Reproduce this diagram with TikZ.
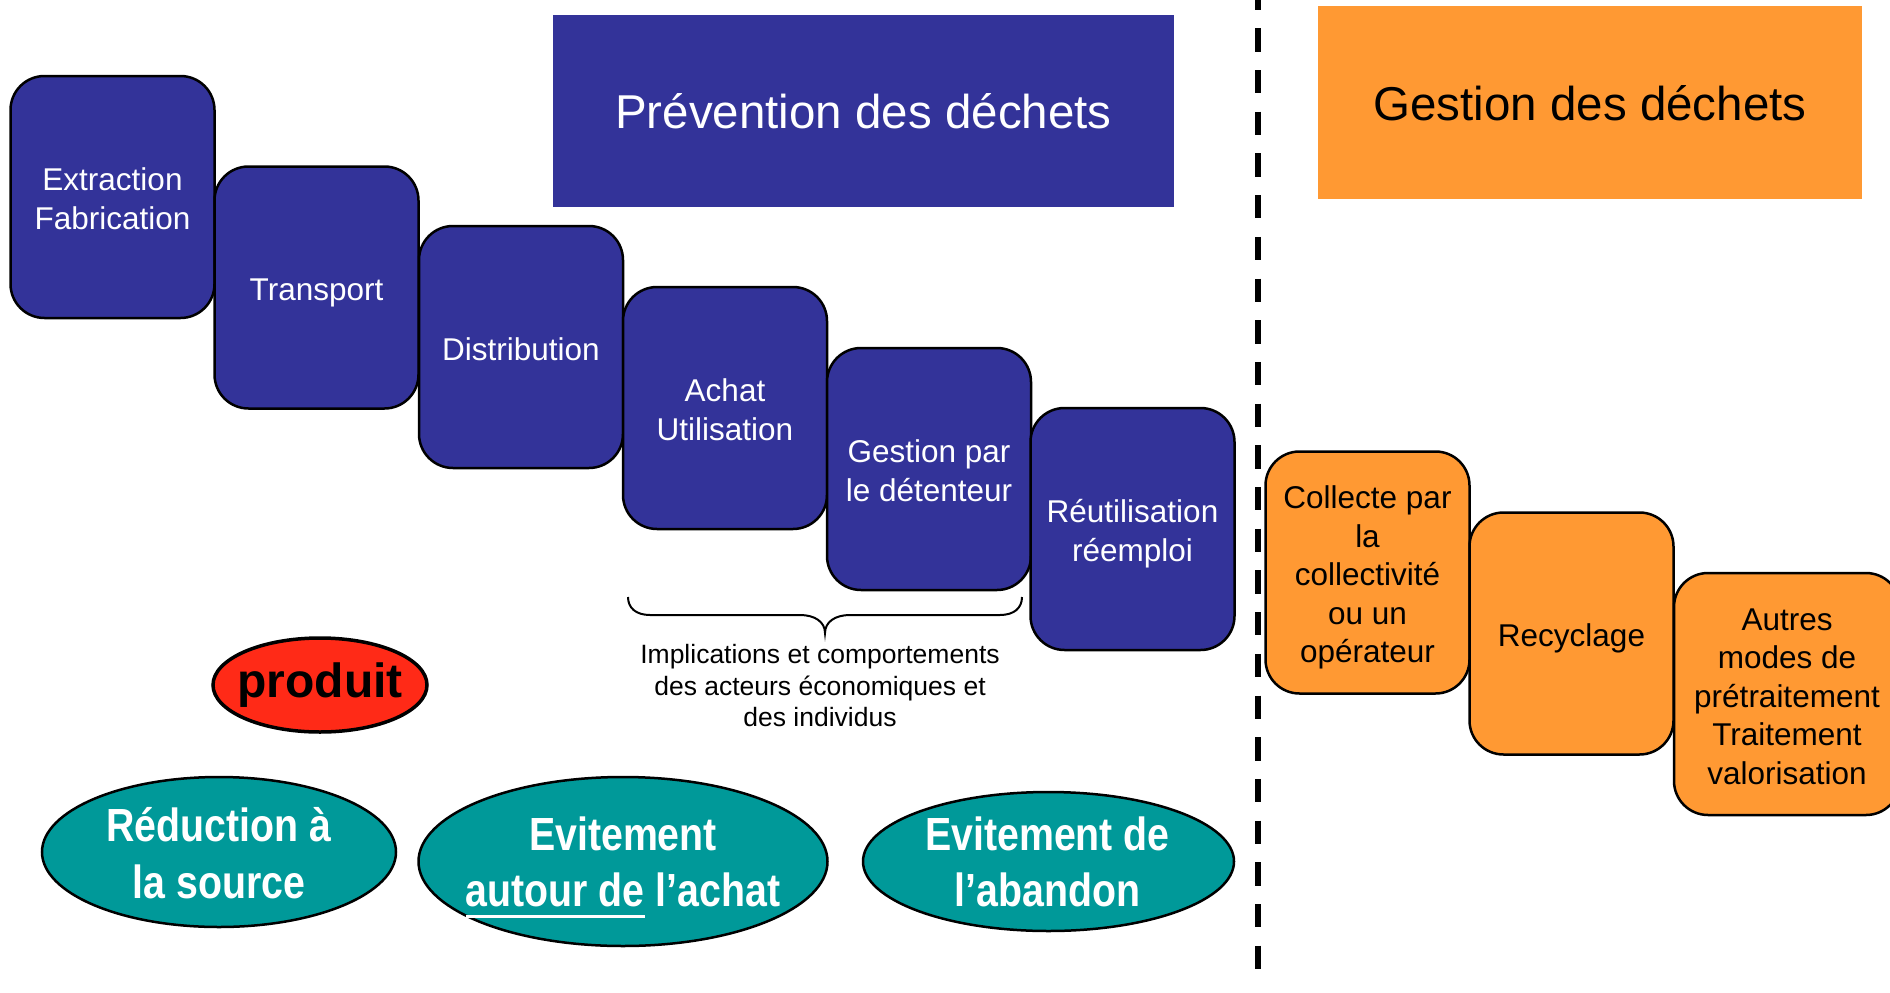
\documentclass[tikz,border=0pt]{standalone}
\usepackage{fontspec}
\setmainfont{Liberation Sans}
\newfontfamily\narrowfont[FakeStretch=0.845]{Liberation Sans}
\usetikzlibrary{shapes.geometric}
\definecolor{pblue}{HTML}{333399}
\definecolor{porange}{HTML}{FF9933}
\definecolor{pteal}{HTML}{009999}
\definecolor{pred}{HTML}{FF2A17}
\newcommand\myul[1]{\setbox0\hbox{#1}\rlap{\smash{\rule[-11pt]{\wd0}{3pt}}}\box0\relax}
\newcommand\topstrut[1]{\rule{0pt}{\dimexpr0.905em+#1\relax}}
\newcommand\botstrut{\rule[-0.212em]{0pt}{0pt}}
\begin{document}
\begin{tikzpicture}[x=1pt,y=-1pt,
  pptext/.style={execute at begin node={\topstrut{#1}}, execute at end node=\botstrut},
  pptext/.default=0pt,
  stage/.style={rectangle, rounded corners=34pt, draw=black, line width=2.5pt,
    minimum width=204pt, minimum height=242pt, inner sep=0pt, align=center,
    pptext=4.5pt, font=\fontsize{31.5}{38.5}\selectfont},
  two/.style={pptext=43pt},
  five/.style={pptext=158.5pt},
  bluestage/.style={stage, fill=pblue, text=white},
  orangestage/.style={stage, fill=porange, text=black},
  titlebox/.style={rectangle, inner sep=0pt, font=\fontsize{47.5}{57}\selectfont},
  oval/.style={ellipse, draw=black, line width=2.5pt, inner sep=0pt},
  ovaltext/.style={text=white, align=center, inner sep=0pt, pptext=58.5pt,
    font=\narrowfont\bfseries\fontsize{46.5}{56.5}\selectfont},
  note/.style={align=center, inner sep=0pt, pptext=63pt, font=\fontsize{26.5}{31.5}\selectfont}]
\useasboundingbox (0,0) rectangle (1890,993);

% titles
\node[titlebox, pptext=2pt, fill=pblue, text=white, minimum width=621pt, minimum height=192pt]
  (prev) at (863.5,111) {Prévention des déchets};
\node[titlebox, pptext=4pt, fill=porange, text=black, minimum width=544pt, minimum height=193pt]
  (gest) at (1590,102) {Gestion des déchets};

% separator
\coordinate (dtop) at (1258,-13.4);
\coordinate (dbot) at (1258,975);
\draw[line width=6pt, dash pattern=on 23.3pt off 18.4pt] (dtop) -- (dbot);

% prevention stages
\node[bluestage, two] (ext) at (112.5,197) {Extraction\\Fabrication};
\node[bluestage] (trans) at (316.5,287.5) {Transport};
\node[bluestage] (dist) at (521,347) {Distribution};
\node[bluestage, two] (achat) at (725,408) {Achat\\Utilisation};
\node[bluestage, two] (detent) at (929,469) {Gestion par\\le détenteur};
\node[bluestage, two] (reut) at (1132.5,529) {Réutilisation\\réemploi};

% management stages
\node[orangestage, five] (coll) at (1367.5,572.5) {Collecte par\\la\\collectivité\\ou un\\opérateur};
\node[orangestage] (recyc) at (1571.5,633.5) {Recyclage};
\node[orangestage, five, minimum width=226pt] (autres) at (1787,694) {Autres\\modes de\\prétraitement\\Traitement\\valorisation};

% brace
\coordinate (bl) at (628,597);
\coordinate (bt) at (825,633);
\coordinate (br) at (1022,597);
\draw[line width=2pt] (bl) .. controls (628,608) and (636,615) .. (650,615) -- (800,615)
  .. controls (815,615) and (825,622) .. (bt)
  .. controls (825,622) and (835,615) .. (850,615) -- (1000,615)
  .. controls (1014,615) and (1022,608) .. (br);
\node[note] (impl) at (820,686) {Implications et comportements\\des acteurs économiques et\\des individus};

% ovals
\node[oval, fill=pred, line width=3.5pt, minimum width=214pt, minimum height=94pt] (prod) at (320,685) {};
\node[inner sep=0pt, font=\bfseries\fontsize{48}{57}\selectfont] (prodt) at (prod.center) {produit};
\node[oval, fill=pteal, minimum width=354pt, minimum height=150pt] (red) at (219,852) {};
\node[ovaltext, pptext=60.5pt] (redt) at (red.center) {Réduction à\\la source};
\node[oval, fill=pteal, minimum width=409pt, minimum height=169pt] (evit) at (623,861.5) {};
\node[ovaltext] (evitt) at (evit.center) {Evitement\\\myul{autour de} l’achat};
\node[oval, fill=pteal, minimum width=371pt, minimum height=139pt] (aband) at (1048.5,861.5) {};
\node[ovaltext] (abandt) at ([xshift=-1pt]aband.center) {Evitement de\\l’abandon};
\end{tikzpicture}
\end{document}
